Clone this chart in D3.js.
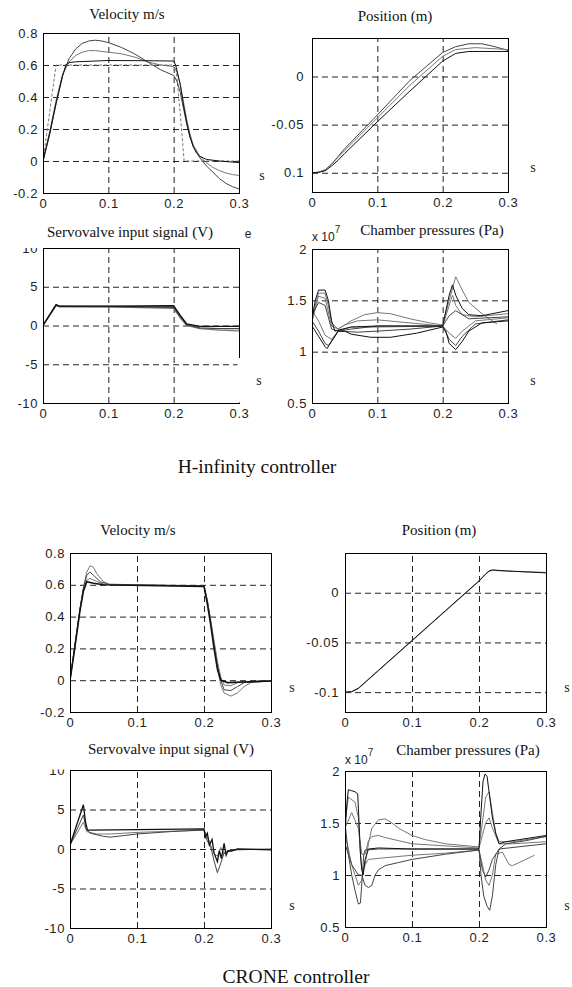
<!DOCTYPE html>
<html>
<head>
<meta charset="utf-8">
<script src="https://cdn.jsdelivr.net/npm/d3@7"></script>
<style>
	body { margin: 0; background: #fff; }
	svg { display: block; }
	.tick text { font-family: "Liberation Sans", Arial, sans-serif; font-size: 13px; fill: #222; letter-spacing: 0.6px; }
	.ttl { font-family: "Liberation Serif", "Times New Roman", serif; font-size: 15px; fill: #111; }
	.cap { font-family: "Liberation Serif", "Times New Roman", serif; font-size: 19.5px; fill: #111; }
	.unit { font-family: "Liberation Serif", "Times New Roman", serif; font-size: 14px; fill: #222; }
	.exp { font-family: "Liberation Sans", Arial, sans-serif; font-size: 12px; fill: #222; }
</style>
</head>
<body>
<svg id="fig" width="572" height="987"></svg>
<script>
"use strict";

// ticks
const xTicks = [0, 0.1, 0.2, 0.3]
const velTicks = [-0.2, 0, 0.2, 0.4, 0.6, 0.8]
const posTicks = [-0.1, -0.05, 0]
const sigTicks = [-10, -5, 0, 5, 10]
const presTicks = [0.5, 1, 1.5, 2]

// H-infinity controller: [t (s), value]
const hinfVelRef = [[0,0],[0.01,0.3],[0.02,0.6],[0.203,0.6],[0.21,0.3],[0.216,0],[0.3,0]]
const hinfVelA = [[0,0],[0.01,0.17],[0.02,0.36],[0.03,0.53],[0.035,0.6],[0.04,0.615],[0.05,0.62],[0.1,0.628],[0.15,0.627],[0.2,0.625],[0.203,0.6],[0.21,0.48],[0.215,0.35],[0.22,0.24],[0.225,0.15],[0.23,0.09],[0.235,0.05],[0.24,0.03],[0.25,0.01],[0.27,0],[0.3,-0.01]]
const hinfVelB = [[0,0],[0.01,0.18],[0.02,0.38],[0.03,0.54],[0.04,0.62],[0.05,0.66],[0.06,0.68],[0.07,0.69],[0.08,0.69],[0.1,0.68],[0.12,0.67],[0.14,0.65],[0.16,0.62],[0.18,0.6],[0.2,0.59],[0.205,0.56],[0.21,0.48],[0.215,0.37],[0.22,0.26],[0.225,0.17],[0.23,0.1],[0.24,0.03],[0.25,-0.01],[0.26,-0.04],[0.27,-0.06],[0.28,-0.075],[0.29,-0.085],[0.3,-0.09]]
const hinfVelC = [[0,0],[0.01,0.16],[0.02,0.36],[0.03,0.54],[0.04,0.64],[0.05,0.7],[0.06,0.735],[0.07,0.75],[0.08,0.755],[0.09,0.75],[0.1,0.74],[0.12,0.71],[0.14,0.67],[0.16,0.62],[0.18,0.57],[0.2,0.535],[0.205,0.5],[0.21,0.43],[0.215,0.33],[0.22,0.23],[0.225,0.15],[0.23,0.09],[0.24,0.02],[0.25,-0.03],[0.26,-0.07],[0.27,-0.11],[0.28,-0.14],[0.29,-0.16],[0.3,-0.175]]

const hinfPosA = [[0,-0.1],[0.01,-0.0995],[0.02,-0.097],[0.03,-0.091],[0.04,-0.083],[0.05,-0.075],[0.1,-0.04],[0.15,-0.004],[0.2,0.025],[0.22,0.031],[0.24,0.034],[0.26,0.034],[0.28,0.031],[0.3,0.027]]
const hinfPosB = [[0,-0.1],[0.01,-0.0995],[0.02,-0.097],[0.03,-0.091],[0.04,-0.084],[0.05,-0.077],[0.1,-0.043],[0.15,-0.009],[0.2,0.021],[0.22,0.028],[0.25,0.03],[0.3,0.028]]
const hinfPosC = [[0,-0.1],[0.01,-0.0995],[0.02,-0.098],[0.03,-0.093],[0.04,-0.087],[0.05,-0.08],[0.1,-0.047],[0.15,-0.015],[0.2,0.016],[0.22,0.024],[0.24,0.026],[0.3,0.026]]

const hinfSigA = [[0,0],[0.02,2.7],[0.025,2.5],[0.1,2.5],[0.2,2.55],[0.21,1.3],[0.22,0.2],[0.24,-0.1],[0.3,-0.1]]
const hinfSigB = [[0,0],[0.02,2.6],[0.025,2.45],[0.1,2.45],[0.2,2.35],[0.21,1.2],[0.22,0.1],[0.24,-0.3],[0.27,-0.4],[0.3,-0.4]]
const hinfSigC = [[0,0],[0.02,2.6],[0.025,2.45],[0.1,2.4],[0.2,2.2],[0.21,1],[0.22,0],[0.24,-0.4],[0.27,-0.6],[0.3,-0.7]]

// pressures in units of 1e7 Pa
const hinfPresA = [[0,1.32],[0.005,1.5],[0.01,1.6],[0.02,1.6],[0.025,1.5],[0.03,1.3],[0.035,1.2],[0.04,1.21],[0.06,1.24],[0.1,1.25],[0.15,1.25],[0.2,1.25],[0.205,1.4],[0.21,1.55],[0.215,1.65],[0.22,1.55],[0.23,1.42],[0.24,1.36],[0.26,1.35],[0.3,1.4]]
const hinfPresB = [[0,1.28],[0.005,1.45],[0.01,1.57],[0.02,1.57],[0.025,1.45],[0.03,1.28],[0.04,1.22],[0.06,1.3],[0.08,1.36],[0.1,1.38],[0.12,1.37],[0.15,1.32],[0.18,1.28],[0.2,1.26],[0.21,1.5],[0.22,1.73],[0.23,1.6],[0.24,1.48],[0.26,1.37],[0.283,1.27]]
const hinfPresC = [[0,1.3],[0.01,1.54],[0.02,1.52],[0.03,1.25],[0.04,1.22],[0.05,1.26],[0.07,1.3],[0.1,1.31],[0.15,1.28],[0.2,1.25],[0.21,1.45],[0.215,1.55],[0.22,1.45],[0.23,1.36],[0.25,1.34],[0.3,1.37]]
const hinfPresD = [[0,1.35],[0.01,1.48],[0.02,1.45],[0.03,1.22],[0.04,1.2],[0.06,1.22],[0.1,1.25],[0.2,1.25],[0.21,1.35],[0.22,1.4],[0.24,1.32],[0.3,1.34]]
const hinfPresE = [[0,1.25],[0.01,1.15],[0.02,1.05],[0.023,1.03],[0.03,1.1],[0.04,1.2],[0.05,1.2],[0.06,1.17],[0.09,1.14],[0.12,1.14],[0.16,1.18],[0.2,1.24],[0.205,1.2],[0.21,1.08],[0.22,1.02],[0.23,1.1],[0.24,1.2],[0.26,1.28],[0.3,1.3]]
const hinfPresF = [[0,1.3],[0.01,1.2],[0.02,1.08],[0.025,1.06],[0.035,1.15],[0.04,1.2],[0.07,1.19],[0.1,1.2],[0.15,1.22],[0.2,1.25],[0.21,1.12],[0.22,1.06],[0.23,1.15],[0.25,1.27],[0.3,1.31]]
const hinfPresG = [[0,1.4],[0.01,1.3],[0.02,1.16],[0.03,1.12],[0.04,1.2],[0.06,1.24],[0.1,1.24],[0.2,1.25],[0.21,1.18],[0.22,1.13],[0.23,1.2],[0.25,1.3],[0.3,1.33]]

// CRONE controller
const croneVelA = [[0,0],[0.005,0.15],[0.01,0.3],[0.015,0.45],[0.02,0.58],[0.025,0.68],[0.03,0.72],[0.035,0.71],[0.04,0.67],[0.05,0.62],[0.06,0.6],[0.1,0.595],[0.2,0.595],[0.205,0.5],[0.21,0.36],[0.215,0.22],[0.22,0.08],[0.225,-0.03],[0.23,-0.08],[0.24,-0.1],[0.25,-0.08],[0.26,-0.04],[0.27,-0.015],[0.28,-0.005],[0.3,-0.005]]
const croneVelB = [[0,0],[0.005,0.15],[0.01,0.3],[0.015,0.45],[0.02,0.58],[0.025,0.66],[0.03,0.68],[0.035,0.66],[0.045,0.62],[0.06,0.6],[0.2,0.595],[0.205,0.5],[0.21,0.37],[0.215,0.23],[0.22,0.1],[0.225,0],[0.23,-0.06],[0.24,-0.065],[0.25,-0.04],[0.26,-0.015],[0.3,-0.005]]
const croneVelC = [[0,0],[0.005,0.15],[0.01,0.3],[0.015,0.45],[0.02,0.57],[0.025,0.63],[0.03,0.64],[0.04,0.62],[0.05,0.605],[0.2,0.59],[0.205,0.5],[0.21,0.38],[0.215,0.25],[0.22,0.12],[0.225,0.02],[0.23,-0.03],[0.24,-0.035],[0.25,-0.015],[0.3,-0.005]]
const croneVelD = [[0,0],[0.005,0.14],[0.01,0.29],[0.015,0.44],[0.02,0.56],[0.025,0.62],[0.035,0.61],[0.05,0.6],[0.2,0.59],[0.205,0.48],[0.21,0.35],[0.215,0.2],[0.22,0.07],[0.225,0],[0.235,-0.015],[0.3,-0.005]]

const cronePosA = [[0,-0.1],[0.01,-0.0995],[0.02,-0.096],[0.03,-0.09],[0.04,-0.084],[0.05,-0.078],[0.1,-0.048],[0.15,-0.018],[0.2,0.012],[0.21,0.019],[0.215,0.022],[0.22,0.023],[0.24,0.022],[0.27,0.021],[0.3,0.02]]
const cronePosB = [[0,-0.1],[0.01,-0.0997],[0.02,-0.0965],[0.03,-0.0905],[0.04,-0.0845],[0.05,-0.0785],[0.1,-0.0485],[0.15,-0.0185],[0.2,0.0115],[0.21,0.0185],[0.215,0.0215],[0.22,0.0225],[0.25,0.0215],[0.3,0.0205]]

const croneSigA = [[0,0.5],[0.02,5.6],[0.023,3.5],[0.026,2.4],[0.03,2.4],[0.1,2.45],[0.2,2.55],[0.202,1.5],[0.205,2],[0.208,0.5],[0.212,1.2],[0.215,-0.5],[0.22,-1.6],[0.223,-0.2],[0.226,-1.2],[0.23,0.7],[0.233,-0.8],[0.236,-0.2],[0.24,-0.3],[0.25,0],[0.3,-0.1]]
const croneSigB = [[0,0.5],[0.02,4.3],[0.024,2.6],[0.03,2],[0.05,1.6],[0.06,1.5],[0.08,1.7],[0.1,1.9],[0.15,2.2],[0.2,2.4],[0.205,1],[0.21,0.3],[0.215,-1.5],[0.22,-3],[0.225,-1.8],[0.23,-0.5],[0.24,-0.2],[0.25,-0.1],[0.3,0]]
const croneSigC = [[0,0.5],[0.02,3.4],[0.025,2.2],[0.04,1.9],[0.06,1.9],[0.1,2.1],[0.2,2.4],[0.205,1.6],[0.21,0.4],[0.215,-0.6],[0.22,-0.9],[0.225,0.2],[0.23,-0.6],[0.235,-0.2],[0.25,-0.05],[0.3,-0.05]]

const cronePresA = [[0,1.4],[0.003,1.7],[0.005,1.82],[0.01,1.81],[0.015,1.8],[0.019,1.78],[0.021,1.5],[0.023,1.2],[0.025,1.05],[0.027,1],[0.03,1.15],[0.035,1.25],[0.05,1.26],[0.1,1.25],[0.2,1.25],[0.203,1.6],[0.206,1.9],[0.209,1.97],[0.212,1.95],[0.215,1.8],[0.22,1.55],[0.225,1.4],[0.23,1.3],[0.24,1.32],[0.26,1.34],[0.3,1.38]]
const cronePresB = [[0,1.5],[0.005,1.75],[0.015,1.7],[0.02,1.55],[0.022,1.3],[0.025,1.05],[0.03,1.1],[0.035,1.3],[0.04,1.45],[0.05,1.53],[0.06,1.54],[0.07,1.5],[0.08,1.45],[0.1,1.38],[0.12,1.34],[0.15,1.3],[0.2,1.27],[0.205,1.5],[0.21,1.75],[0.215,1.8],[0.22,1.6],[0.225,1.4],[0.23,1.32],[0.25,1.32],[0.3,1.37]]
const cronePresC = [[0,1.45],[0.01,1.6],[0.02,1.45],[0.025,1.2],[0.03,1.2],[0.035,1.33],[0.04,1.37],[0.05,1.38],[0.06,1.36],[0.08,1.33],[0.1,1.3],[0.15,1.28],[0.2,1.26],[0.21,1.5],[0.215,1.55],[0.22,1.45],[0.23,1.3],[0.25,1.3],[0.3,1.32]]
const cronePresD = [[0,1.5],[0.005,1.2],[0.01,1],[0.015,0.85],[0.02,0.72],[0.023,0.73],[0.026,1],[0.028,1.2],[0.03,1.24],[0.05,1.25],[0.1,1.25],[0.2,1.25],[0.203,1],[0.207,0.8],[0.212,0.7],[0.216,0.66],[0.22,0.8],[0.225,1.1],[0.23,1.25],[0.24,1.3],[0.27,1.33],[0.3,1.37]]
const cronePresE = [[0,1.4],[0.01,1.1],[0.02,0.9],[0.025,0.95],[0.03,1.1],[0.035,1.15],[0.05,1.16],[0.1,1.19],[0.15,1.21],[0.2,1.24],[0.205,1.1],[0.21,0.95],[0.215,0.9],[0.22,1],[0.225,1.2],[0.235,1.22],[0.245,1.1],[0.25,1.09],[0.26,1.12],[0.283,1.19]]
const cronePresF = [[0,1.3],[0.01,1.1],[0.02,1],[0.025,1],[0.03,0.9],[0.035,0.88],[0.04,0.9],[0.045,1],[0.05,1.05],[0.06,1.09],[0.08,1.12],[0.1,1.15],[0.15,1.2],[0.2,1.24],[0.205,1.05],[0.21,0.98],[0.215,1.05],[0.22,1.15],[0.23,1.25],[0.3,1.3]]

const svg = d3.select('#fig')
const BLACK = '#111', DARK = '#444', GRAY = '#777'
const fmt = d => String(d)

function panel(p) {
	const x = d3.scaleLinear().domain([0, 0.3]).range([p.l, p.r])
	const y = d3.scaleLinear().domain(p.dom).range([p.b, p.t])
	const h = p.b - p.t, w = p.r - p.l
	const g = svg.append('g')
	const id = 'clip' + p.id

	g.append('clipPath').attr('id', id)
		.append('rect').attr('x', p.l).attr('y', p.t).attr('width', w).attr('height', h)

	// dashed grid, interior ticks only
	g.append('g').attr('transform', `translate(0,${p.b})`)
		.call(d3.axisBottom(x).tickValues(xTicks.slice(1, -1)).tickSize(-h).tickFormat(''))
		.call(a => a.select('.domain').remove())
		.selectAll('line').attr('stroke', '#222').attr('stroke-dasharray', '6,4')
	g.append('g').attr('transform', `translate(${p.l},0)`)
		.call(d3.axisLeft(y).tickValues(p.ticks.filter(v => v > p.dom[0] && v < p.dom[1])).tickSize(-w).tickFormat(''))
		.call(a => a.select('.domain').remove())
		.selectAll('line').attr('stroke', '#222').attr('stroke-dasharray', '6,4')

	// curves
	const line = d3.line().x(d => x(d[0])).y(d => y(d[1]))
	g.append('g').attr('clip-path', `url(#${id})`)
		.selectAll('path').data(p.series).join('path')
		.attr('d', d => line(d.data))
		.attr('fill', 'none')
		.attr('stroke', d => d.color)
		.attr('stroke-width', d => d.width || 1)
		.attr('stroke-dasharray', d => d.dash || null)

	// frame
	g.append('rect').attr('x', p.l + 0.5).attr('y', p.t + 0.5).attr('width', w).attr('height', h)
		.attr('fill', 'none').attr('stroke', '#000').attr('stroke-width', 1)

	// tick labels
	g.append('g').attr('transform', `translate(0,${p.b})`)
		.call(d3.axisBottom(x).tickValues(xTicks).tickSize(0).tickPadding(6).tickFormat(fmt))
		.call(a => a.select('.domain').remove())
	g.append('g').attr('transform', `translate(${p.l},0)`)
		.call(d3.axisLeft(y).tickValues(p.ticks).tickSize(0).tickPadding(p.ypad || 5).tickFormat(fmt))
		.call(a => a.select('.domain').remove())

	g.append('text').attr('class', 'ttl').attr('x', p.tx).attr('y', p.ty)
		.attr('text-anchor', 'middle').text(p.title)

	if (p.exp) {
		const e = g.append('text').attr('class', 'exp').attr('x', p.exp[0]).attr('y', p.exp[1])
		e.append('tspan').text('x 10')
		e.append('tspan').attr('dy', -8).attr('font-size', 10).text('7')
	}
	return g
}

panel({ id: 1, l: 43, r: 239, t: 33, b: 193, dom: [-0.2, 0.8], ticks: velTicks,
	title: 'Velocity m/s', tx: 127, ty: 19,
	series: [
		{ data: hinfVelRef, color: GRAY, dash: '3,2' },
		{ data: hinfVelB, color: GRAY },
		{ data: hinfVelC, color: DARK },
		{ data: hinfVelA, color: BLACK }
	] })
panel({ id: 2, l: 312, r: 508, t: 38, b: 192, dom: [-0.12, 0.04], ticks: posTicks, ypad: 8,
	title: 'Position (m)', tx: 395, ty: 21,
	series: [
		{ data: hinfPosA, color: DARK },
		{ data: hinfPosB, color: GRAY },
		{ data: hinfPosC, color: BLACK }
	] })
panel({ id: 3, l: 43, r: 239, t: 248, b: 403, dom: [-10, 10], ticks: sigTicks,
	title: 'Servovalve input signal (V)', tx: 130, ty: 237,
	series: [
		{ data: hinfSigC, color: GRAY, width: 1.3 },
		{ data: hinfSigB, color: DARK, width: 1.3 },
		{ data: hinfSigA, color: BLACK, width: 1.3 }
	] })
panel({ id: 4, l: 312, r: 508, t: 249, b: 403, dom: [0.5, 2], ticks: presTicks,
	title: 'Chamber pressures (Pa)', tx: 432, ty: 235, exp: [312, 241],
	series: [
		{ data: hinfPresB, color: GRAY },
		{ data: hinfPresC, color: GRAY },
		{ data: hinfPresG, color: GRAY },
		{ data: hinfPresD, color: DARK },
		{ data: hinfPresF, color: DARK },
		{ data: hinfPresE, color: BLACK },
		{ data: hinfPresA, color: BLACK }
	] })

panel({ id: 5, l: 70, r: 271, t: 553, b: 712, dom: [-0.2, 0.8], ticks: velTicks,
	title: 'Velocity m/s', tx: 138, ty: 535,
	series: [
		{ data: croneVelA, color: GRAY },
		{ data: croneVelB, color: DARK },
		{ data: croneVelC, color: GRAY },
		{ data: croneVelD, color: BLACK, width: 1.6 }
	] })
panel({ id: 6, l: 345, r: 546, t: 553, b: 712, dom: [-0.12, 0.04], ticks: posTicks, ypad: 6,
	title: 'Position (m)', tx: 439, ty: 535,
	series: [
		{ data: cronePosB, color: GRAY },
		{ data: cronePosA, color: BLACK }
	] })
panel({ id: 7, l: 70, r: 271, t: 770, b: 928, dom: [-10, 10], ticks: sigTicks,
	title: 'Servovalve input signal (V)', tx: 171, ty: 754,
	series: [
		{ data: croneSigC, color: GRAY },
		{ data: croneSigB, color: DARK },
		{ data: croneSigA, color: BLACK, width: 1.3 }
	] })
panel({ id: 8, l: 345, r: 546, t: 771, b: 927, dom: [0.5, 2], ticks: presTicks,
	title: 'Chamber pressures (Pa)', tx: 468, ty: 755, exp: [345, 764],
	series: [
		{ data: cronePresB, color: GRAY },
		{ data: cronePresC, color: GRAY },
		{ data: cronePresE, color: GRAY },
		{ data: cronePresF, color: DARK },
		{ data: cronePresD, color: DARK },
		{ data: cronePresA, color: BLACK }
	] })

// white patches where the scanned sub-figures overlap each other
const masks = [[15, 236, 27, 12], [40, 757, 29, 12.5], [237.5, 358, 5, 44.5], [272, 165, 11, 14]]
svg.append('g').selectAll('rect').data(masks).join('rect')
	.attr('x', d => d[0]).attr('y', d => d[1]).attr('width', d => d[2]).attr('height', d => d[3])
	.attr('fill', '#fff')

// stray unit labels
const units = [[262, 180], [533, 172], [259, 385], [533, 385], [292, 692], [567, 692], [292, 910], [567, 910]]
svg.append('g').selectAll('text').data(units).join('text')
	.attr('class', 'unit').attr('x', d => d[0]).attr('y', d => d[1]).attr('text-anchor', 'middle').text('s')
svg.append('text').attr('class', 'exp').attr('x', 248).attr('y', 238).attr('text-anchor', 'middle').text('e')

svg.append('text').attr('class', 'cap').attr('x', 257).attr('y', 473).attr('text-anchor', 'middle').text('H-infinity controller')
svg.append('text').attr('class', 'cap').attr('x', 296).attr('y', 983).attr('text-anchor', 'middle').text('CRONE controller')
</script>
</body>
</html>
